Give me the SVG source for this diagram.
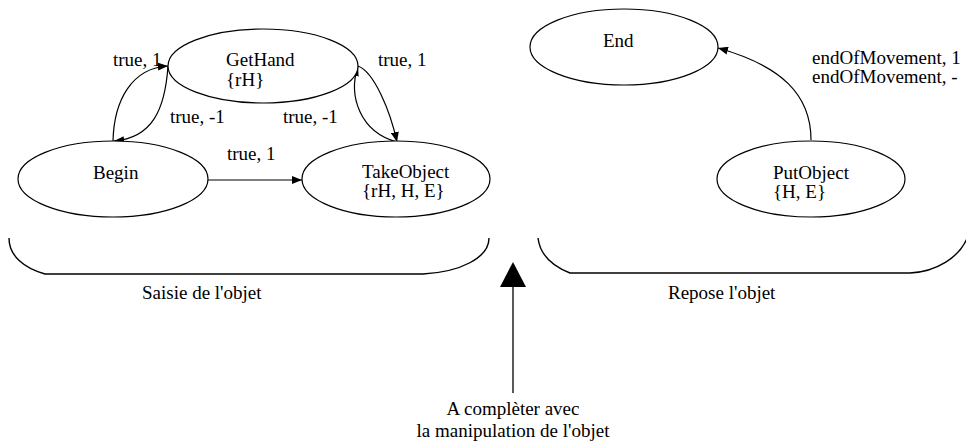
<svg xmlns="http://www.w3.org/2000/svg" width="966" height="448" viewBox="0 0 966 448">
<style>
text{font-family:"Liberation Serif","Times New Roman",serif;font-size:19px;fill:#000}
.n{fill:#fff;stroke:#000;stroke-width:1.2}
.e{fill:none;stroke:#000;stroke-width:1.2}
.b{fill:none;stroke:#000;stroke-width:1.4}
</style>
<defs>
<marker id="ah" viewBox="0 0 10 8" refX="10" refY="4" markerWidth="10" markerHeight="8" markerUnits="userSpaceOnUse" orient="auto">
<path d="M0,0 L10,4 L0,8 Z" fill="#000"/>
</marker>
</defs>
<g id="connectors">
<path class="e" d="M113,141 C114,100 132,68 168,66" marker-end="url(#ah)"/>
<path class="e" d="M168,66 C165,110 152,138 114,141" marker-end="url(#ah)"/>
<path class="e" d="M358,66 C374,72 390,110 397,142" marker-end="url(#ah)"/>
<path class="e" d="M397,142 C360,132 348,96 358,66" marker-end="url(#ah)"/>
<path class="e" d="M207,180 L302,180" marker-end="url(#ah)"/>
<path class="e" d="M811,140 C811,95 782,66 718,48" marker-end="url(#ah)"/>
<text x="113" y="66">true, 1</text>
<text x="378" y="66">true, 1</text>
<text x="170" y="123">true, -1</text>
<text x="283" y="123">true, -1</text>
<text x="227" y="160">true, 1</text>
<text x="812" y="64">endOfMovement, 1</text>
<text x="812" y="83">endOfMovement, -</text>
</g>
<g id="GetHand">
<ellipse class="n" cx="263" cy="66" rx="95" ry="37"/>
<text x="226" y="66">GetHand</text>
<text x="226" y="86">{rH}</text>
</g>
<g id="Begin">
<ellipse class="n" cx="113" cy="179" rx="95" ry="38"/>
<text x="93" y="179">Begin</text>
</g>
<g id="TakeObject">
<ellipse class="n" cx="396" cy="179" rx="94" ry="38"/>
<text x="362" y="178">TakeObject</text>
<text x="362" y="197">{rH, H, E}</text>
</g>
<g id="End">
<ellipse class="n" cx="624" cy="47" rx="94" ry="38"/>
<text x="603" y="47">End</text>
</g>
<g id="PutObject">
<ellipse class="n" cx="811" cy="179" rx="94" ry="38"/>
<text x="773" y="179">PutObject</text>
<text x="773" y="198">{H, E}</text>
</g>
<g id="brackets">
<path class="b" d="M9,238 C9,256 24,268 45,274 L423,274 C460,272 489,258 489,238"/>
<text x="142" y="299">Saisie de l'objet</text>
<path class="b" d="M538,238 C540,254 552,266 570,273 L910,273 C935,272 960,258 968,236"/>
<text x="668" y="299">Repose l'objet</text>
</g>
<g id="note">
<path d="M513,262 L526,287 L500,287 Z" fill="#000"/>
<line x1="513" y1="287" x2="513" y2="393" stroke="#000" stroke-width="1.3"/>
<text x="513" y="415" text-anchor="middle">A complèter avec</text>
<text x="513" y="437" text-anchor="middle">la manipulation de l'objet</text>
</g>
</svg>
